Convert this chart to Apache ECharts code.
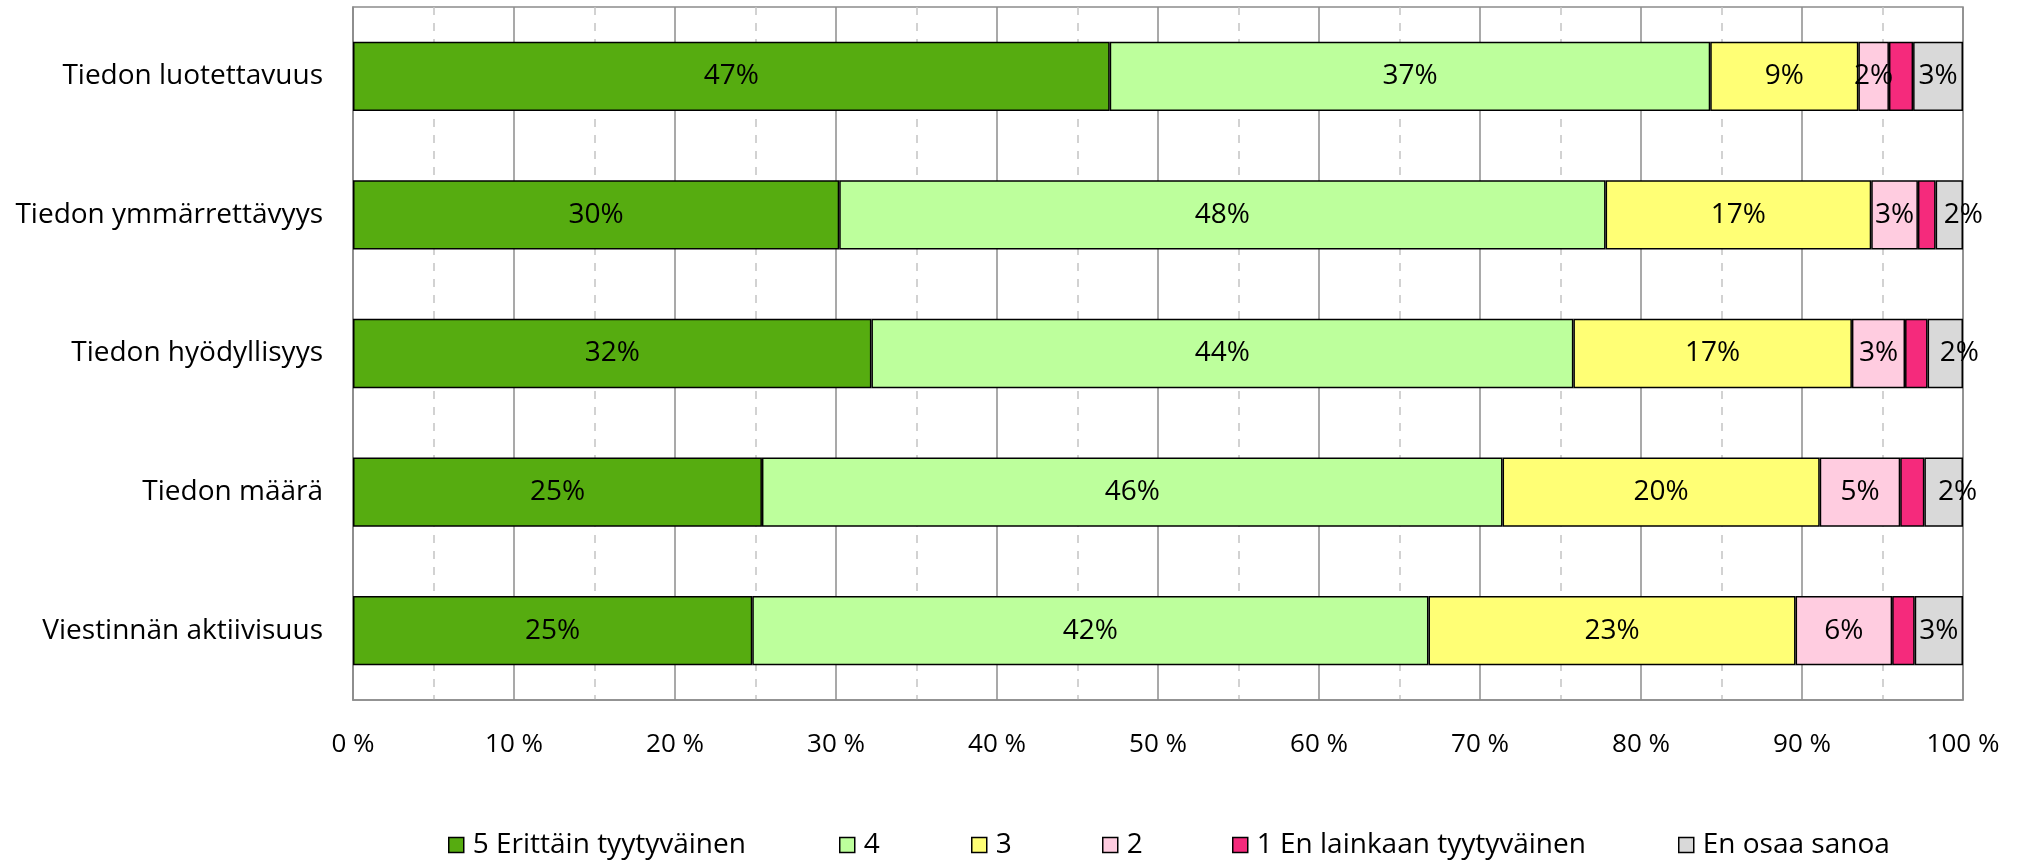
<!DOCTYPE html>
<html>
<head>
<meta charset="utf-8">
<script src="https://cdn.jsdelivr.net/npm/echarts@6/dist/echarts.min.js"></script>
<style>
    html, body { margin: 0; padding: 0; background: #fff; }
    #main { width: 2027px; height: 861px; }
</style>
</head>
<body>
<div id="main"></div>
<script>
// kategoriat ylhäältä alas
var categories = ['Tiedon luotettavuus', 'Tiedon ymmärrettävyys', 'Tiedon hyödyllisyys', 'Tiedon määrä', 'Viestinnän aktiivisuus'];
var seriesNames = ['5 Erittäin tyytyväinen', '4', '3', '2', '1 En lainkaan tyytyväinen', 'En osaa sanoa'];
var v5 = [47.0, 30.2, 32.2, 25.4, 24.8];
var v4 = [37.3, 47.6, 43.6, 46.0, 42.0];
var v3 = [9.2, 16.5, 17.3, 19.7, 22.8];
var v2 = [1.9, 2.9, 3.3, 5.0, 6.0];
var v1 = [1.5, 1.1, 1.4, 1.5, 1.4];
var vEos = [3.1, 1.7, 2.2, 2.4, 3.0];
var xTicks = [0, 10, 20, 30, 40, 50, 60, 70, 80, 90, 100];

var colors = ['#56ac10', '#bdff9c', '#ffff75', '#ffcce0', '#f52a7c', '#d9d9d9'];
var allValues = [v5, v4, v3, v2, v1, vEos];
var legendLeft = [443, 834, 966, 1097, 1227, 1673];
var font = 'Open Sans, Noto Sans, sans-serif';

var series = allValues.map(function (vals, i) {
    return {
        name: seriesNames[i],
        type: 'bar',
        stack: 'total',
        barWidth: '50%',
        data: vals.map(function (v) {
            // Excel siirtää pienet viimeiset tunnisteet oikealle
            if (i === 5 && v < 2.5) {
                return { value: v, label: { offset: [14, 0] } };
            }
            return v;
        }),
        itemStyle: { color: colors[i], borderColor: '#000', borderWidth: 1.5 },
        label: {
            show: i !== 4,
            position: 'inside',
            color: '#000',
            fontFamily: font,
            fontSize: 28,
            formatter: function (p) { return Math.round(p.value) + '%'; }
        },
        emphasis: { disabled: true }
    };
});

var legends = seriesNames.map(function (name, i) {
    return {
        data: [name],
        left: legendLeft[i],
        top: 826,
        icon: 'rect',
        itemWidth: 15,
        itemHeight: 15,
        itemStyle: { borderColor: '#000', borderWidth: 1.5 },
        textStyle: { color: '#000', fontFamily: font, fontSize: 28, padding: [0, 0, 0, 4] },
        selectedMode: false
    };
});

var myChart = echarts.init(document.getElementById('main'));
var option = {
    animation: false,
    backgroundColor: '#fff',
    grid: {
        left: 353, right: 64, top: 7, bottom: 161,
        show: true, borderColor: '#8c8c8c', borderWidth: 1.5
    },
    legend: legends,
    xAxis: {
        type: 'value',
        min: xTicks[0],
        max: xTicks[xTicks.length - 1],
        interval: 10,
        axisLine: { show: true, lineStyle: { color: '#8c8c8c', width: 1.5 } },
        axisTick: { show: false },
        axisLabel: {
            margin: 32,
            color: '#000',
            fontFamily: font,
            fontSize: 26,
            formatter: '{value} %'
        },
        splitLine: { show: true, lineStyle: { color: '#8c8c8c', width: 1.5 } },
        minorTick: { show: false, splitNumber: 2 },
        minorSplitLine: { show: true, lineStyle: { color: '#c4c4c4', width: 1.5, type: [8, 8] } }
    },
    yAxis: {
        type: 'category',
        inverse: true,
        data: categories,
        axisLine: { show: true, lineStyle: { color: '#8c8c8c', width: 1.5 } },
        axisTick: { show: false },
        axisLabel: { margin: 30, color: '#000', fontFamily: font, fontSize: 28 }
    },
    series: series
};
myChart.setOption(option);
</script>
</body>
</html>
